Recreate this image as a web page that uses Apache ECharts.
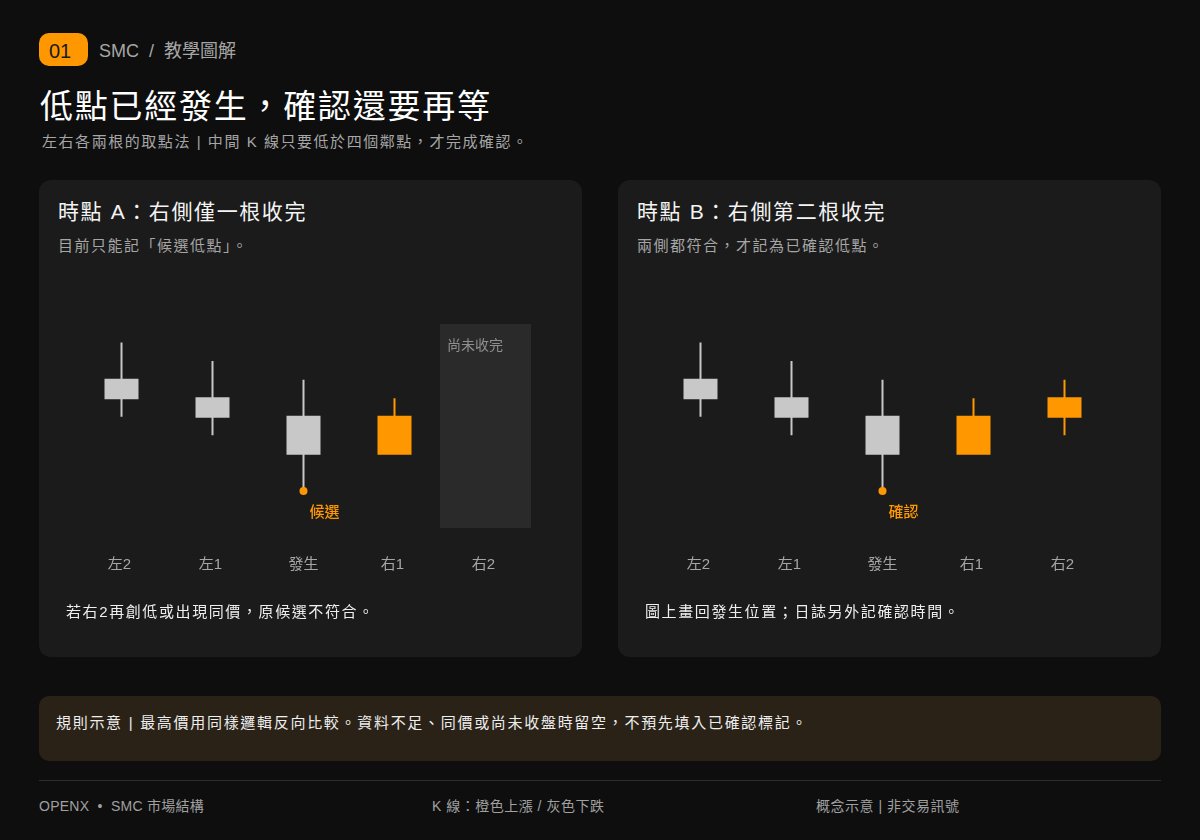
<!DOCTYPE html>
<html>
<head>
<meta charset="utf-8">
<script src="https://cdn.jsdelivr.net/npm/echarts@6/dist/echarts.min.js"></script>
<style>
html,body{margin:0;padding:0;background:#0e0e0e;}
body{position:relative;width:1200px;height:840px;overflow:hidden;font-family:"Liberation Sans","Noto Sans CJK TC",sans-serif;}
.t{position:absolute;white-space:pre;line-height:1;}
.box{position:absolute;}
.panel{background:#1b1b1b;border-radius:12px;width:543px;height:477px;top:180px;}
.chart{position:absolute;top:180px;width:543px;height:477px;}
.panelTitle{top:201px;font-size:21px;color:#f4f4f4;letter-spacing:1.6px;}
.panelDesc{top:238px;font-size:15px;color:#a6a6a6;letter-spacing:1.5px;}
.panelNote{top:604px;font-size:15px;color:#eeeeee;letter-spacing:1.6px;}
.foot{top:799px;font-size:14px;color:#a0a0a0;letter-spacing:.5px;}
</style>
</head>
<body>
<div class="box" style="left:39px;top:33px;width:49px;height:33px;background:#ff9800;border-radius:10px;"></div>
<div class="t" style="left:49px;top:41px;font-size:20px;color:#1a1a1a;">01</div>
<div class="t" style="left:99px;top:42px;font-size:18px;color:#a6a6a6;">SMC  /  教學圖解</div>
<div class="t" style="left:40px;top:90px;font-size:33px;color:#fff;letter-spacing:1.75px;">低點已經發生，確認還要再等</div>
<div class="t" style="left:42px;top:134px;font-size:15px;color:#a6a6a6;letter-spacing:1.55px;">左右各兩根的取點法 | 中間 K 線只要低於四個鄰點，才完成確認。</div>

<div class="box panel" style="left:39px;"></div>
<div class="box panel" style="left:618px;"></div>
<div class="t panelTitle" style="left:58px;">時點 A：右側僅一根收完</div>
<div class="t panelDesc" style="left:58px;">目前只能記「候選低點」。</div>
<div class="t panelTitle" style="left:637px;">時點 B：右側第二根收完</div>
<div class="t panelDesc" style="left:637px;">兩側都符合，才記為已確認低點。</div>
<div class="chart" id="chartA" style="left:39px;"></div>
<div class="chart" id="chartB" style="left:618px;"></div>
<div class="t panelNote" style="left:66px;">若右2再創低或出現同價，原候選不符合。</div>
<div class="t panelNote" style="left:645px;">圖上畫回發生位置；日誌另外記確認時間。</div>

<div class="box" style="left:39px;top:696px;width:1122px;height:65px;background:#2a2217;border-radius:10px;"></div>
<div class="t" style="left:56px;top:715px;font-size:15px;color:#eeeeee;letter-spacing:1.7px;">規則示意 | 最高價用同樣邏輯反向比較。資料不足、同價或尚未收盤時留空，不預先填入已確認標記。</div>
<div class="box" style="left:39px;top:780px;width:1122px;height:1px;background:#2e2e2e;"></div>
<div class="t foot" style="left:39px;letter-spacing:.25px;">OPENX  •  SMC 市場結構</div>
<div class="t foot" style="left:432px;">K 線：橙色上漲 / 灰色下跌</div>
<div class="t foot" style="left:816px;">概念示意 | 非交易訊號</div>

<script>
var categories = ['左2', '左1', '發生', '右1', '右2'];

// [open, close, low, high]; 時點 A 還沒有右2
var candlesA = [
    [8, 7, 6, 10],
    [7, 6, 5, 9],
    [6, 4, 2, 8],
    [4, 6, 4, 7]
];
var candlesB = [
    [8, 7, 6, 10],
    [7, 6, 5, 9],
    [6, 4, 2, 8],
    [4, 6, 4, 7],
    [6, 7, 5, 8]
];
var lowMarker = ['-', '-', 2, '-', '-'];
var pendingA = ['-', '-', '-', '-', 11];
var pendingB = [];

var ORANGE = '#ff9800';
var GREY = '#c8c8c8';

function makeChart(id, candles, pending, markText) {
    var myChart = echarts.init(document.getElementById(id));
    myChart.setOption({
        animation: false,
        backgroundColor: 'transparent',
        textStyle: { fontFamily: '"Liberation Sans","Noto Sans CJK TC",sans-serif' },
        grid: { left: 37, top: 144, width: 455, height: 204 },
        xAxis: {
            type: 'category',
            data: categories,
            axisLine: { show: false },
            axisTick: { show: false },
            splitLine: { show: false },
            axisLabel: {
                color: '#a6a6a6',
                fontSize: 15,
                margin: 29,
                interval: 0,
                // 左2 這類標籤在原圖略偏左，補一個空格
                formatter: function (v) { return /\d$/.test(v) ? v + ' ' : v; }
            }
        },
        yAxis: { type: 'value', min: 0, max: 11, show: false, splitLine: { show: false } },
        series: [
            {
                type: 'bar',
                data: pending,
                barWidth: '100%',
                silent: true,
                itemStyle: { color: '#2a2a2a' },
                label: {
                    show: true,
                    position: 'insideTopLeft',
                    distance: 0,
                    offset: [7, 15],
                    formatter: '尚未收完',
                    color: '#8f8f8f',
                    fontSize: 14
                }
            },
            {
                type: 'candlestick',
                data: candles,
                barWidth: 32,
                itemStyle: {
                    color: ORANGE,
                    borderColor: ORANGE,
                    color0: GREY,
                    borderColor0: GREY,
                    borderWidth: 2
                }
            },
            {
                type: 'scatter',
                data: lowMarker,
                symbol: 'circle',
                symbolSize: 8,
                z: 5,
                itemStyle: { color: ORANGE, opacity: 1 },
                label: {
                    show: true,
                    position: 'bottom',
                    offset: [21, 5],
                    formatter: markText,
                    color: ORANGE,
                    fontSize: 15,
                    fontWeight: 500
                }
            }
        ]
    });
    return myChart;
}

makeChart('chartA', candlesA, pendingA, '候選');
makeChart('chartB', candlesB, pendingB, '確認');
</script>
</body>
</html>
